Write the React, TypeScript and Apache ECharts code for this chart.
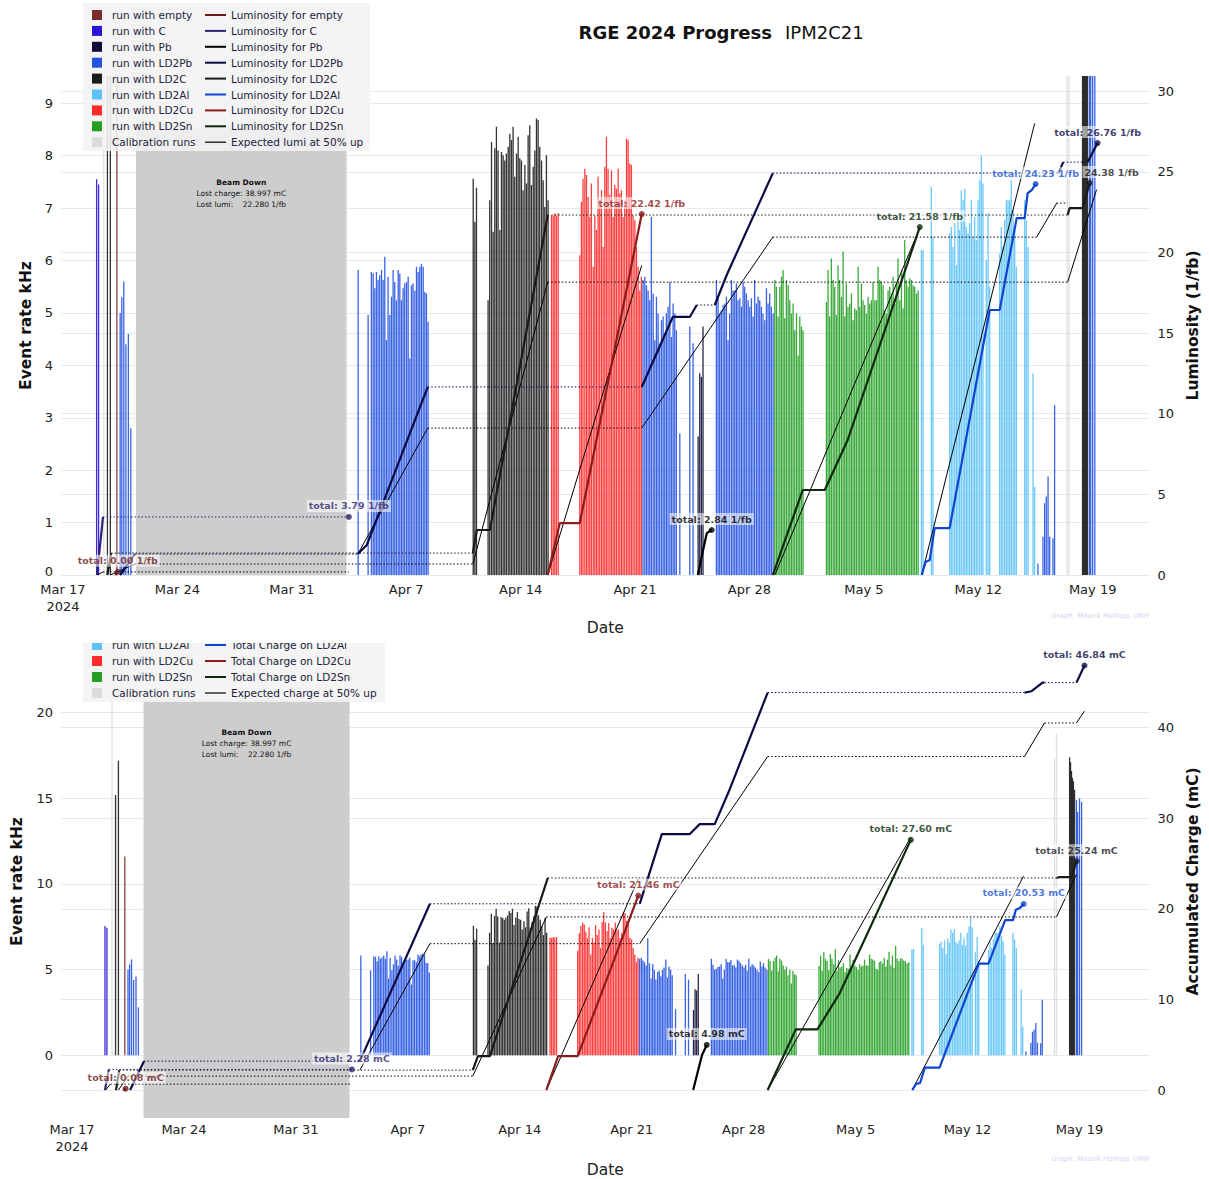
import React, { useEffect, useRef } from "react";
import * as echarts from "echarts";

type P = [number, number];
const FONT = '"DejaVu Sans", Verdana, sans-serif';

// x ticks: days since 2024-03-17
const tickDays = [0, 7, 14, 21, 28, 35, 42, 49, 56, 63];
const tickLabels = ["Mar 17\n2024", "Mar 24", "Mar 31", "Apr 7", "Apr 14", "Apr 21", "Apr 28", "May 5", "May 12", "May 19"];

// runs: [day, event rate kHz]
const runsEmpty: P[] = [[3.3, 11.6]];
const runsC: P[] = [[2.06, 7.55], [2.18, 7.45]];
const runsPb: P[] = [[38.86, 2.64], [38.96, 3.85], [39.06, 3.78], [39.16, 4.74]];
const runsLD2Pb: P[] = [
  [3.5, 5.0], [3.6, 5.3], [3.72, 5.6], [3.85, 4.4], [4.0, 4.6], [4.15, 2.8],
  [18.06, 5.82], [18.67, 4.96], [18.87, 5.78], [18.98, 5.75], [19.08, 5.47], [19.18, 5.78], [19.28, 5.63], [19.38, 5.72], [19.49, 5.82], [19.59, 5.63], [19.69, 6.07], [19.79, 4.48], [19.89, 5.69], [20.0, 4.96], [20.1, 5.31], [20.2, 5.82], [20.3, 5.59], [20.4, 5.24], [20.51, 5.82], [20.61, 5.75], [20.71, 5.24], [20.81, 5.47], [20.91, 5.56], [21.02, 5.59], [21.12, 5.69], [21.22, 4.13], [21.32, 5.53], [21.42, 5.56], [21.53, 5.43], [21.63, 5.88], [21.73, 5.78], [21.83, 5.88], [21.93, 5.94], [22.04, 5.88], [22.14, 5.4], [22.24, 5.37], [22.34, 4.83],
  [35.49, 5.63], [35.6, 5.69], [35.7, 5.53], [35.8, 5.43], [35.9, 5.24], [36.0, 6.83], [36.11, 5.37], [36.21, 4.48], [36.31, 5.31], [36.41, 4.99], [36.51, 4.42], [36.62, 4.86], [36.72, 4.93], [36.82, 4.61], [36.92, 4.99], [37.02, 5.12], [37.13, 5.59], [37.23, 4.54], [37.33, 5.18], [37.43, 4.99], [37.53, 4.67], [37.74, 2.7], [38.35, 4.74], [38.55, 4.42],
  [39.98, 5.63], [40.08, 5.28], [40.18, 4.99], [40.28, 5.05], [40.39, 5.15], [40.49, 5.18], [40.59, 5.31], [40.69, 4.48], [40.79, 4.99], [40.9, 5.63], [41.0, 5.43], [41.1, 5.43], [41.2, 5.56], [41.3, 5.24], [41.41, 5.28], [41.51, 5.12], [41.61, 5.59], [41.71, 5.5], [41.81, 5.37], [41.92, 5.24], [42.02, 5.12], [42.12, 5.28], [42.22, 4.93], [42.32, 5.63], [42.43, 5.18], [42.53, 5.31], [42.63, 5.24], [42.73, 5.12], [42.83, 4.99], [42.94, 4.86], [43.04, 5.47], [43.14, 5.18], [43.24, 5.37], [43.34, 5.12], [43.45, 4.99],
  [59.65, 0.22], [59.96, 0.73], [60.06, 1.37], [60.16, 1.5], [60.27, 1.88], [60.37, 0.73], [60.57, 0.7], [60.67, 3.24],
  [62.81, 14.9], [62.88, 14.2], [63.0, 15.0], [63.13, 14.8],
];
const runsLD2C: P[] = [
  [2.72, 15.2], [2.9, 17.2],
  [25.1, 7.56], [25.2, 6.74], [25.3, 7.39], [26.01, 5.24], [26.11, 7.15], [26.22, 8.26], [26.32, 6.55], [26.42, 8.14], [26.52, 8.55], [26.62, 8.1], [26.73, 6.58], [26.83, 8.07], [26.93, 8.01], [27.03, 7.91], [27.13, 8.04], [27.24, 8.17], [27.34, 8.42], [27.44, 8.3], [27.54, 8.55], [27.64, 7.6], [27.75, 8.04], [27.85, 8.36], [27.95, 7.95], [28.05, 7.91], [28.15, 7.34], [28.26, 7.82], [28.36, 7.47], [28.46, 8.39], [28.56, 8.58], [28.66, 7.44], [28.77, 7.79], [28.87, 8.1], [28.97, 8.71], [29.07, 8.68], [29.17, 8.17], [29.28, 7.91], [29.38, 7.53], [29.48, 7.02], [29.58, 8.01], [29.68, 7.15],
  [62.38, 17.4], [62.44, 17.1], [62.5, 16.6], [62.56, 16.2], [62.62, 16.0], [62.69, 15.5],
];
const runsLD2Al: P[] = [
  [52.52, 6.2], [52.62, 6.2], [53.13, 7.41], [53.23, 6.45], [54.25, 6.52], [54.35, 6.64], [54.45, 6.26], [54.56, 6.71], [54.66, 5.91], [54.76, 6.8], [54.86, 6.58], [54.96, 7.34], [55.07, 7.15], [55.17, 7.37], [55.27, 6.64], [55.37, 6.52], [55.47, 6.71], [55.58, 7.15], [55.68, 6.45], [55.78, 6.83], [55.88, 6.39], [55.98, 7.15], [56.09, 7.53], [56.19, 8.01], [56.29, 7.47], [56.49, 6.01], [56.6, 6.9], [56.7, 5.5], [57.31, 6.13], [57.41, 6.64], [57.51, 6.26], [57.62, 6.77], [57.72, 7.15], [57.82, 7.15], [57.92, 7.15], [58.02, 7.53], [58.13, 6.96], [58.23, 6.64], [58.33, 5.88], [58.84, 7.15], [58.94, 6.77], [59.05, 6.26], [59.35, 3.85], [59.45, 1.68],
];
const runsLD2Cu: P[] = [
  [29.89, 6.86], [29.99, 6.86], [30.09, 6.9], [30.19, 6.86], [30.3, 6.9], [31.62, 6.1], [31.72, 7.12], [31.82, 7.56], [31.93, 7.75], [32.03, 7.63], [32.13, 7.21], [32.23, 6.83], [32.33, 7.47], [32.44, 5.88], [32.54, 6.86], [32.64, 6.58], [32.74, 7.6], [32.84, 7.02], [32.95, 7.34], [33.05, 6.26], [33.15, 7.79], [33.25, 8.36], [33.35, 7.75], [33.46, 7.25], [33.56, 7.72], [33.66, 6.83], [33.76, 7.44], [33.86, 7.37], [33.97, 7.75], [34.07, 7.28], [34.17, 7.34], [34.27, 6.83], [34.37, 7.15], [34.48, 8.33], [34.58, 8.3], [34.68, 7.85], [34.78, 7.82], [34.88, 6.86], [34.99, 6.77], [35.09, 6.26], [35.19, 5.88], [35.29, 5.43], [35.39, 5.69],
];
const runsLD2Sn: P[] = [
  [43.55, 5.63], [43.65, 5.5], [43.75, 4.93], [43.86, 5.5], [43.96, 5.69], [44.06, 5.82], [44.16, 4.9], [44.26, 5.63], [44.37, 5.53], [44.47, 5.24], [44.57, 4.99], [44.67, 5.18], [44.77, 4.67], [44.88, 4.99], [44.98, 4.19], [45.08, 4.93], [45.18, 4.74], [45.28, 4.67],
  [46.71, 5.21], [46.81, 5.82], [46.91, 4.93], [47.01, 6.04], [47.12, 5.63], [47.22, 5.5], [47.32, 4.96], [47.42, 5.91], [47.52, 5.63], [47.63, 5.31], [47.73, 6.17], [47.83, 4.93], [47.93, 5.56], [48.03, 5.12], [48.14, 5.18], [48.24, 5.37], [48.34, 4.86], [48.44, 5.09], [48.54, 5.05], [48.65, 5.88], [48.75, 5.12], [48.85, 5.56], [48.95, 5.24], [49.05, 5.15], [49.16, 4.99], [49.26, 5.31], [49.36, 5.18], [49.46, 5.24], [49.56, 5.59], [49.67, 5.24], [49.77, 5.24], [49.87, 5.88], [49.97, 5.63], [50.07, 5.59], [50.18, 5.53], [50.28, 5.05], [50.38, 4.99], [50.48, 5.43], [50.58, 5.5], [50.69, 5.37], [50.79, 5.69], [50.89, 5.18], [50.99, 5.59], [51.09, 6.04], [51.2, 5.24], [51.3, 5.82], [51.4, 5.09], [51.5, 6.39], [51.6, 5.63], [51.71, 5.5], [51.81, 5.66], [51.91, 5.63], [52.01, 5.53], [52.11, 5.5], [52.22, 5.37], [52.32, 5.43],
];
const runsCalib: P[] = [[2.5, 20.7], [61.44, 17.3], [61.56, 18.8]];

// accumulated luminosity (1/fb), segments per target
const lumiEmpty: P[][] = [[[3.2, 0], [3.35, 0.2]]];
const lumiC: P[][] = [[[2.08, 0], [2.45, 3.6]], [[17.49, 3.6]]];
const lumiPb: P[][] = [[[38.84, 0], [39.39, 2.6], [39.69, 2.79]]];
const lumiLD2Pb: P[][] = [[[3.49, 0], [4.4, 1.3]], [[18.04, 1.3], [18.59, 1.86], [22.32, 11.66]], [[35.41, 11.66], [37.31, 16.0], [38.35, 16.0], [38.78, 16.74]], [[39.88, 16.74], [40.61, 18.6], [43.43, 24.92]], [[60.9, 24.92], [61.2, 25.6]], [[62.69, 25.6], [63.3, 26.78]]];
const lumiLD2C: P[][] = [[[2.72, 0], [2.95, 1.36]], [[25.08, 1.36], [25.32, 2.79], [26.12, 2.79], [29.66, 22.32]], [[61.47, 22.32], [61.59, 22.75], [62.39, 22.75], [62.81, 24.3]]];
const lumiLD2Al: P[][] = [[[52.54, 0], [52.78, 0.81], [53.03, 0.93], [53.33, 2.91], [54.25, 2.91], [56.7, 16.43], [57.31, 16.43], [58.35, 22.13], [58.84, 22.13], [59.02, 23.68], [59.27, 23.87], [59.51, 24.24]]];
const lumiLD2Cu: P[][] = [[[29.66, 0], [30.4, 3.22], [31.62, 3.22], [35.41, 22.38]]];
const lumiLD2Sn: P[][] = [[[43.43, 0], [45.26, 5.27], [46.61, 5.27], [48.01, 8.37], [52.42, 21.57]]];
const lumiExpected: P[][][] = [
  [[[2.1, 0], [2.45, 0.19]], [[17.49, 0.19]]],
  [[[2.9, 0], [4.4, 0.68]], [[25.08, 0.68], [29.66, 18.16]], [[61.47, 18.16], [63.24, 23.9]]],
  [[[18.04, 1.3], [22.32, 9.11]], [[35.41, 9.11], [43.43, 20.95]], [[59.57, 20.95], [60.8, 23.06]], [[61.47, 23.06]]],
  [[[29.66, 0], [35.41, 19.2]]],
  [[[43.55, 0], [52.11, 20.77]]],
  [[[52.54, 0], [59.45, 28.0]]],
];
const lumiTotals = ["total: 0.00 1/fb", "total: 3.79 1/fb", "total: 2.84 1/fb", "total: 26.76 1/fb", "24.38 1/fb", "total: 24.23 1/fb", "total: 22.42 1/fb", "total: 21.58 1/fb"];

// accumulated charge (mC)
const chargeEmpty: P[][] = [[[3.2, 0], [3.35, 0.15]]];
const chargeC: P[][] = [[[2.06, 0], [2.3, 2.28]], [[17.5, 2.28]]];
const chargePb: P[][] = [[[38.84, 0], [39.39, 3.85], [39.69, 4.98]]];
const chargeLD2Pb: P[][] = [[[3.63, 0], [4.5, 3.19]], [[18.0, 3.19], [22.38, 20.55]], [[35.5, 20.55], [36.88, 28.24], [38.63, 28.24], [39.25, 29.34], [40.19, 29.34], [41.13, 33.19], [43.5, 43.85]], [[59.56, 43.85], [60.0, 44.0], [60.69, 44.95], [60.81, 44.95]], [[62.81, 44.95], [63.31, 46.84]]];
const chargeLD2C: P[][] = [[[2.75, 0], [2.95, 2.2]], [[25.06, 2.2], [25.38, 3.74], [26.13, 3.74], [29.75, 23.4]], [[61.56, 23.4], [61.75, 23.5], [62.5, 23.5], [62.81, 25.24]]];
const chargeLD2Al: P[][] = [[[52.54, 0], [52.78, 0.68], [53.03, 0.78], [53.33, 2.47], [54.25, 2.47], [56.7, 13.96], [57.31, 13.96], [58.35, 18.75], [58.84, 18.75], [59.02, 19.9], [59.27, 20.1], [59.51, 20.53]]];
const chargeLD2Cu: P[][] = [[[29.66, 0], [30.4, 3.74], [31.62, 3.74], [35.41, 21.46]]];
const chargeLD2Sn: P[][] = [[[43.5, 0], [45.26, 6.7], [46.61, 6.7], [48.01, 10.7], [52.45, 27.6]]];
const chargeExpected: P[][][] = [
  [[[2.1, 0], [2.4, 0.66]], [[17.5, 0.66]]],
  [[[2.9, 0], [3.5, 1.54]], [[25.06, 1.54], [29.66, 19.1]], [[61.56, 19.1], [62.81, 23.8]]],
  [[[18.0, 2.2], [22.38, 16.15]], [[35.5, 16.15], [43.5, 36.8]], [[59.56, 36.8], [60.81, 40.5]], [[62.81, 40.5], [63.31, 41.8]]],
  [[[29.66, 0], [35.41, 23.3]]],
  [[[43.5, 0], [52.45, 27.9]]],
  [[[52.54, 0], [59.5, 23.6]]],
];
const chargeTotals = ["total: 0.08 mC", "total: 2.28 mC", "total: 4.98 mC", "total: 46.84 mC", "total: 25.24 mC", "total: 20.53 mC", "total: 21.46 mC", "total: 27.60 mC"];

// beam down period (days)
const beamDown: P = [4.47, 17.35];

const targets = ["empty", "C", "Pb", "LD2Pb", "LD2C", "LD2Al", "LD2Cu", "LD2Sn"];
const barColors = ["#7a2b2b", "#2a12d8", "#0d0d35", "#2352e0", "#1c1c1c", "#5cc2f7", "#ff2a2a", "#25a025"];
const lineColors = ["#6b1a1a", "#2e2470", "#000000", "#0b0b45", "#1a1a1a", "#0f45d0", "#8b1c1c", "#0d2a0d"];
const calibColor = "#dcdcdc";

function buildOption() {
  const runsAll = [runsEmpty, runsC, runsPb, runsLD2Pb, runsLD2C, runsLD2Al, runsLD2Cu, runsLD2Sn, runsCalib];
  const barCols = [...barColors, calibColor];
  const series: any[] = [];

  const pushLine = (segs: P[][], color: string, width: number, xi: number, yi: number, z: number) => {
    segs.forEach((seg, i) => {
      if (seg.length > 1) {
        series.push({ type: "line", xAxisIndex: xi, yAxisIndex: yi, data: seg, symbol: "none", silent: true, z, lineStyle: { color, width } });
      }
      if (i < segs.length - 1) {
        const a = seg[seg.length - 1];
        const b = segs[i + 1][0];
        series.push({ type: "line", xAxisIndex: xi, yAxisIndex: yi, data: [a, [b[0], a[1]]], symbol: "none", silent: true, z: 3, lineStyle: { color, width: 1, type: [1.5, 2] } });
      }
    });
  };

  const addPanel = (p: number, lines: P[][][], expected: P[][][], totals: string[], beamTop: number, beamBottom: number, beamDist: number) => {
    const xi = p, yl = p * 2, yr = p * 2 + 1;
    series.push({
      type: "line", xAxisIndex: xi, yAxisIndex: yl, data: [], z: 1, silent: true,
      markArea: {
        silent: true,
        itemStyle: { color: "#cdcdcd" },
        label: {
          show: true, position: "insideTop", distance: beamDist, color: "#111",
          formatter: "{b|Beam Down}\n{n|Lost charge: 38.997 mC}\n{n|Lost lumi:    22.280 1/fb}",
          rich: {
            b: { fontFamily: FONT, fontWeight: "bold", fontSize: 7.5, lineHeight: 11, color: "#111" },
            n: { fontFamily: FONT, fontSize: 7.5, lineHeight: 11, color: "#111" },
          },
        },
        data: [[{ xAxis: beamDown[0], yAxis: beamTop }, { xAxis: beamDown[1], yAxis: beamBottom }]],
      },
    });
    runsAll.forEach((runs, i) => {
      series.push({ type: "bar", xAxisIndex: xi, yAxisIndex: yl, data: runs, barWidth: 1.3, barGap: "-100%", silent: true, z: 2, itemStyle: { color: barCols[i], opacity: 0.9 } });
    });
    expected.forEach((segs) => pushLine(segs, "#000000", 1, xi, yr, 3));
    lines.forEach((segs, i) => {
      pushLine(segs, lineColors[i], 2.2, xi, yr, 4);
      const last = segs[segs.length - 1];
      const pt = last[last.length - 1];
      series.push({
        type: "scatter", xAxisIndex: xi, yAxisIndex: yr, data: [pt], symbolSize: 6, silent: true,
        z: i === 5 ? 8 : 7,
        itemStyle: { color: lineColors[i] },
        label: {
          show: true, position: "top", distance: 2, formatter: totals[i],
          offset: p === 0 && i === 4 ? [22, 0] : [0, 0],
          color: i === 5 ? "#1a55d8" : lineColors[i], fontFamily: FONT, fontSize: 9.5, fontWeight: "bold",
          backgroundColor: "rgba(255,255,255,0.7)", padding: [1, 2],
        },
      });
    });
  };

  addPanel(0, [lumiEmpty, lumiC, lumiPb, lumiLD2Pb, lumiLD2C, lumiLD2Al, lumiLD2Cu, lumiLD2Sn], lumiExpected, lumiTotals, 8.52, 0, 49);
  addPanel(1, [chargeEmpty, chargeC, chargePb, chargeLD2Pb, chargeLD2C, chargeLD2Al, chargeLD2Cu, chargeLD2Sn], chargeExpected, chargeTotals, 20.76, -3.66, 27);

  const xAxisBase = (gi: number, min: number, max: number, gap: number, margin: number) => ({
    gridIndex: gi, type: "value", min, max,
    name: "Date", nameLocation: "middle", nameGap: gap,
    nameTextStyle: { fontFamily: FONT, fontSize: 15.5, color: "#222" },
    axisLine: { show: false }, axisTick: { show: false }, splitLine: { show: false },
    axisLabel: {
      customValues: tickDays, fontFamily: FONT, fontSize: 13, color: "#222", margin, lineHeight: 17,
      formatter: (v: number) => { const k = tickDays.indexOf(Math.round(v)); return k >= 0 ? tickLabels[k] : ""; },
    },
  });
  const gridLine = { lineStyle: { color: "#e4e9f2", width: 1 } };
  const yName = { fontFamily: FONT, fontSize: 15.5, fontWeight: "bold", color: "#111" };
  const yLab = { fontFamily: FONT, fontSize: 13, color: "#222", showMinLabel: false, showMaxLabel: false };

  const legendRow = (y: number, sq: string, sqLabel: string, ln: string, lnLabel: string, lw: number) => [
    { type: "rect", z: 101, shape: { x: 92, y: y - 5, width: 10, height: 10 }, style: { fill: sq } },
    { type: "text", z: 101, x: 112, y, style: { text: sqLabel, fill: "#22223a", font: `10.5px ${FONT}`, textVerticalAlign: "middle", verticalAlign: "middle" } },
    { type: "line", z: 101, shape: { x1: 205, y1: y, x2: 226, y2: y }, style: { stroke: ln, lineWidth: lw } },
    { type: "text", z: 101, x: 231, y, style: { text: lnLabel, fill: "#22223a", font: `10.5px ${FONT}`, textVerticalAlign: "middle", verticalAlign: "middle" } },
  ];
  const graphic: any[] = [];
  graphic.push({ type: "text", z: 101, x: 772, y: 32, style: { text: "RGE 2024 Progress", fill: "#111", font: `bold 18px ${FONT}`, textAlign: "right", align: "right", textVerticalAlign: "middle", verticalAlign: "middle" } });
  graphic.push({ type: "text", z: 101, x: 785, y: 32, style: { text: "IPM2C21", fill: "#111", font: `18px ${FONT}`, textVerticalAlign: "middle", verticalAlign: "middle" } });
  graphic.push({ type: "rect", z: 100, shape: { x: 83, y: 3, width: 287, height: 148 }, style: { fill: "rgba(243,243,243,0.88)" } });
  targets.forEach((t, i) => graphic.push(...legendRow(15 + i * 15.9, barColors[i], `run with ${t}`, lineColors[i], `Luminosity for ${t}`, 2)));
  graphic.push(...legendRow(15 + 8 * 15.9, calibColor, "Calibration runs", "#000", "Expected lumi at 50% up", 1.2));
  graphic.push({ type: "rect", z: 100, shape: { x: 83, y: 640, width: 302, height: 62 }, style: { fill: "rgba(243,243,243,0.88)" } });
  [5, 6, 7].forEach((i, k) => graphic.push(...legendRow(645 + k * 16, barColors[i], `run with ${targets[i]}`, lineColors[i], `Total Charge on ${targets[i]}`, 2)));
  graphic.push(...legendRow(645 + 3 * 16, calibColor, "Calibration runs", "#000", "Expected charge at 50% up", 1.2));
  graphic.push({ type: "rect", z: 102, shape: { x: 82, y: 612, width: 310, height: 31 }, style: { fill: "#ffffff" } });
  graphic.push({ type: "text", z: 101, x: 1100, y: 616, style: { text: "Graph: Maurik Holtrop, UNH", fill: "#d4d4ee", font: `italic 7px ${FONT}`, textAlign: "center", align: "center", textVerticalAlign: "middle", verticalAlign: "middle" } });
  graphic.push({ type: "text", z: 101, x: 1100, y: 1159, style: { text: "Graph: Maurik Holtrop, UNH", fill: "#d4d4ee", font: `italic 7px ${FONT}`, textAlign: "center", align: "center", textVerticalAlign: "middle", verticalAlign: "middle" } });

  const topLeftLabel = {
    ...yLab, showMinLabel: true,
    formatter: (v: number) => (v === 0 ? "{z|0}" : String(v)),
    rich: { z: { fontFamily: FONT, fontSize: 13, color: "#222", padding: [0, 0, 8, 0] } },
  };

  return {
    animation: false,
    backgroundColor: "#ffffff",
    textStyle: { fontFamily: FONT },
    grid: [
      { left: 61, top: 76, width: 1089, height: 499 },
      { left: 61, top: 645, width: 1089, height: 475 },
    ],
    xAxis: [xAxisBase(0, -0.12, 66.48, 45, 6), xAxisBase(1, -0.69, 67.38, 44, 3)],
    yAxis: [
      { gridIndex: 0, type: "value", position: "left", min: 0, max: 9.52, interval: 1, name: "Event rate kHz", nameLocation: "middle", nameGap: 26, nameRotate: 90, nameTextStyle: yName, axisLabel: topLeftLabel, axisLine: { show: false }, axisTick: { show: false }, splitLine: { ...gridLine, showMaxLine: false } },
      { gridIndex: 0, type: "value", position: "right", min: 0, max: 30.94, interval: 5, name: "Luminosity (1/fb)", nameLocation: "middle", nameGap: 33, nameRotate: 90, nameTextStyle: yName, axisLabel: { ...yLab, showMinLabel: true }, axisLine: { show: false }, axisTick: { show: false }, splitLine: { ...gridLine, showMaxLine: false } },
      { gridIndex: 1, type: "value", position: "left", min: -3.66, max: 23.95, splitNumber: 5, name: "Event rate kHz", nameLocation: "middle", nameGap: 36, nameRotate: 90, nameTextStyle: yName, axisLabel: yLab, axisLine: { show: false }, axisTick: { show: false }, splitLine: { ...gridLine, showMinLine: false, showMaxLine: false } },
      { gridIndex: 1, type: "value", position: "right", min: -3.08, max: 49.1, splitNumber: 5, name: "Accumulated Charge (mC)", nameLocation: "middle", nameGap: 33, nameRotate: 90, nameTextStyle: yName, axisLabel: yLab, axisLine: { show: false }, axisTick: { show: false }, splitLine: { ...gridLine, showMinLine: false, showMaxLine: false } },
    ],
    graphic,
    series,
  };
}

export default function App() {
  const ref = useRef<HTMLDivElement>(null);
  useEffect(() => {
    document.body.style.margin = "0";
    const chart = echarts.init(ref.current!, null, { renderer: "svg" });
    chart.setOption(buildOption() as any);
    return () => chart.dispose();
  }, []);
  return <div ref={ref} style={{ position: "absolute", left: 0, top: 0, width: 1209, height: 1179, background: "#fff" }} />;
}
